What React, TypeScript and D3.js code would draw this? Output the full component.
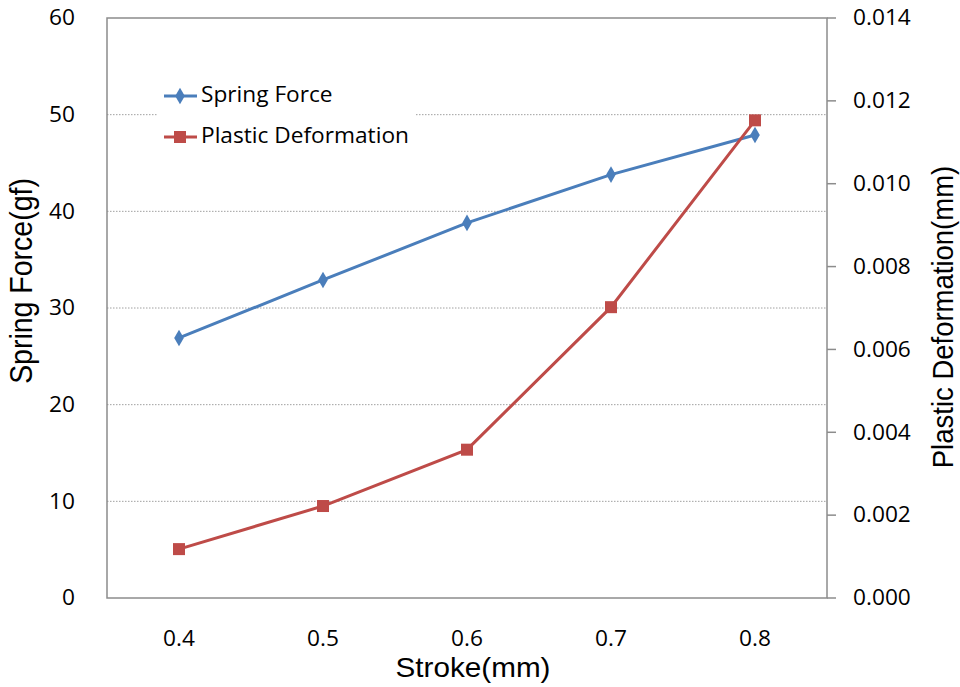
import React from "react";
import * as d3 from "d3";

const categories = ["0.4", "0.5", "0.6", "0.7", "0.8"];
const springForce = [26.9, 32.9, 38.8, 43.8, 47.9];
const plasticDeformation = [0.00118, 0.00222, 0.00358, 0.00702, 0.01153];
const leftTicks = [0, 10, 20, 30, 40, 50, 60];
const rightTicks = [0, 0.002, 0.004, 0.006, 0.008, 0.01, 0.012, 0.014];

const BLUE = "#4a7ebb";
const RED = "#be4b48";
const FONT = "'Open Sans', 'Noto Sans', sans-serif";
const TITLE_FONT = "'Liberation Sans', Arial, sans-serif";
const SX = 1.08;

function T(props: { x: number; y: number; anchor?: string; size?: number; children: React.ReactNode }) {
  const { x, y, anchor = "start", size = 21, children } = props;
  return (
    <text transform={`translate(${x},${y}) scale(${SX},1)`} dy="0.35em" textAnchor={anchor} fontSize={size} fill="#000" fontFamily={FONT}>
      {children}
    </text>
  );
}

export default function App() {
  const W = 960, H = 687;
  const left = 107, right = 827, top = 18, bottom = 598;
  const x = d3.scaleBand().domain(categories).range([left, right]);
  const xc = (c: string) => (x(c) as number) + x.bandwidth() / 2;
  const yL = d3.scaleLinear().domain([0, 60]).range([bottom, top]);
  const yR = d3.scaleLinear().domain([0, 0.014]).range([bottom, top]);

  const lineL = d3.line<number>().x((_, i) => xc(categories[i])).y((d) => yL(d));
  const lineR = d3.line<number>().x((_, i) => xc(categories[i])).y((d) => yR(d));
  const diamond = d3.symbol().type(d3.symbolDiamond).size(80)() as string;

  return (
    <svg width={W} height={H} style={{ position: "absolute", left: 0, top: 0, background: "#fff" }}>
      <rect x={0} y={0} width={W} height={H} fill="#fff" />
      {leftTicks.slice(1, -1).map((t) => (
        <line key={t} x1={left} x2={right} y1={yL(t)} y2={yL(t)} stroke="#a0a0a0" strokeWidth={1} strokeDasharray="1.5,1.5" />
      ))}
      <rect x={left} y={top} width={right - left} height={bottom - top} fill="none" stroke="#8c8c8c" strokeWidth={1.5} />
      {rightTicks.map((t) => (
        <line key={t} x1={right} x2={right + 9} y1={yR(t)} y2={yR(t)} stroke="#8c8c8c" strokeWidth={1.5} />
      ))}
      {leftTicks.map((t) => (
        <T key={t} x={75} y={yL(t)} anchor="end">{t}</T>
      ))}
      {rightTicks.map((t) => (
        <T key={t} x={853} y={yR(t)}>{d3.format(".3f")(t)}</T>
      ))}
      {categories.map((c) => (
        <T key={c} x={xc(c)} y={639} anchor="middle">{c}</T>
      ))}
      <text transform={`translate(473,677) scale(1.06,1)`} textAnchor="middle" fontSize={28} fill="#000" fontFamily={TITLE_FONT}>Stroke(mm)</text>
      <text transform={`translate(32,281) rotate(-90) scale(1,1.1)`} textAnchor="middle" fontSize={28.5} fill="#000" fontFamily={TITLE_FONT}>Spring Force(gf)</text>
      <text transform={`translate(953,317) rotate(-90) scale(1,1.08)`} textAnchor="middle" fontSize={27.5} fill="#000" fontFamily={TITLE_FONT}>Plastic Deformation(mm)</text>

      <path d={lineL(springForce) as string} fill="none" stroke={BLUE} strokeWidth={3} />
      {springForce.map((v, i) => (
        <path key={i} d={diamond} transform={`translate(${xc(categories[i])},${yL(v)})`} fill={BLUE} />
      ))}
      <path d={lineR(plasticDeformation) as string} fill="none" stroke={RED} strokeWidth={3} />
      {plasticDeformation.map((v, i) => (
        <rect key={i} x={xc(categories[i]) - 6} y={yR(v) - 6} width={12} height={12} fill={RED} />
      ))}

      <rect x={157} y={72} width={258} height={88} fill="#fff" />
      <line x1={164} x2={197} y1={96} y2={96} stroke={BLUE} strokeWidth={3} />
      <path d={diamond} transform="translate(180,96)" fill={BLUE} />
      <T x={201} y={95}>Spring Force</T>
      <line x1={164} x2={197} y1={137} y2={137} stroke={RED} strokeWidth={3} />
      <rect x={174} y={131} width={12} height={12} fill={RED} />
      <T x={201} y={136}>Plastic Deformation</T>
    </svg>
  );
}
